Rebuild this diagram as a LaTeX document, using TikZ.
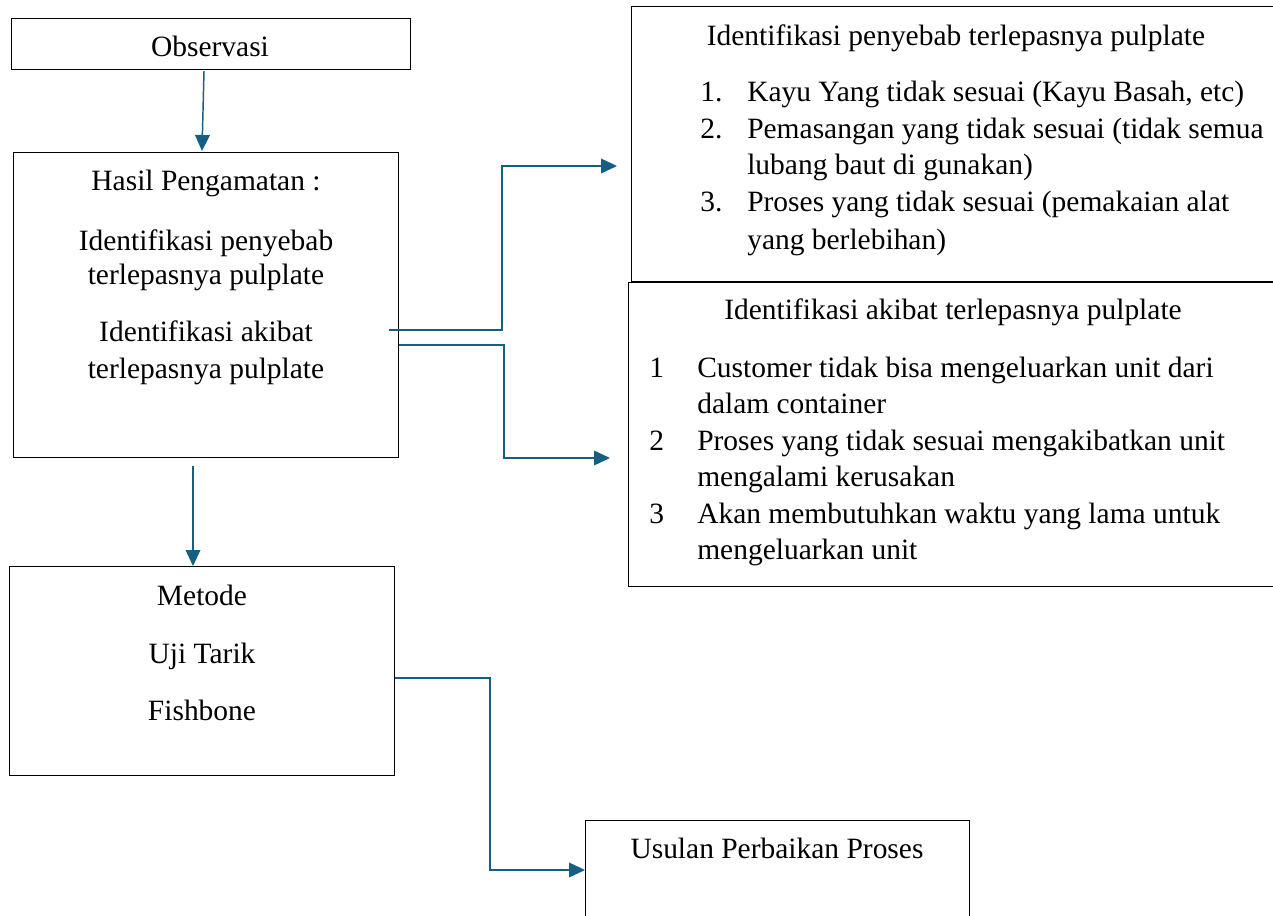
\documentclass[tikz,border=0pt]{standalone}
\usepackage{fontspec}
\setmainfont{Liberation Serif}
\usetikzlibrary{arrows.meta,calc}
\definecolor{arrowblue}{HTML}{156082}
\begin{document}
\begin{tikzpicture}[x=0.75pt,y=-0.75pt,
  box/.style={draw=black,line width=0.9pt,fill=white,rectangle,inner sep=0pt,anchor=north west},
  txt/.style={anchor=base,inner sep=0pt,font=\fontsize{22.1}{26}\selectfont},
  ltxt/.style={anchor=base west,inner sep=0pt,font=\fontsize{22.1}{26}\selectfont},
  arr/.style={draw=arrowblue,line width=1.1pt,-{Triangle[length=12pt,width=11pt]}},
  ln/.style={draw=arrowblue,line width=1.1pt}]
\useasboundingbox (0,0) rectangle (1273,916);
\clip (0,0) rectangle (1273,916);
% boxes
\node[box,minimum width=299.25pt,minimum height=38.25pt] (obs) at (11,18) {};
\node[box,minimum width=288.75pt,minimum height=228.75pt] (hasil) at (13,152) {};
\node[box,minimum width=288.75pt,minimum height=156.75pt] (metode) at (9,566) {};
\node[box,minimum width=494.25pt,minimum height=206.25pt] (r1) at (631,6) {};
\node[box,minimum width=496.5pt,minimum height=228pt] (r2) at (628,282) {};
\node[box,minimum width=288pt,minimum height=82.5pt] (usulan) at (585,820) {};
% texts
\node[txt] (t-obs) at (210,57) {Observasi};
\node[txt] (t-h1) at (206,191) {Hasil Pengamatan :};
\node[txt] (t-h2) at (206,250) {Identifikasi penyebab};
\node[txt] (t-h3) at (206,284) {terlepasnya pulplate};
\node[txt] (t-h4) at (206,341) {Identifikasi akibat};
\node[txt] (t-h5) at (206,378) {terlepasnya pulplate};
\node[txt] (t-m1) at (202,605) {Metode};
\node[txt] (t-m2) at (202,663) {Uji Tarik};
\node[txt] (t-m3) at (202,720) {Fishbone};
\node[txt] (t-r1) at (956,46) {Identifikasi penyebab terlepasnya pulplate};
\node[ltxt] (n11) at (700,102) {1.};
\node[ltxt] (l11) at (747,102) {Kayu Yang tidak sesuai (Kayu Basah, etc)};
\node[ltxt] (n12) at (700,139) {2.};
\node[ltxt] (l12) at (747,139) {Pemasangan yang tidak sesuai (tidak semua};
\node[ltxt] (l12b) at (747,175) {lubang baut di gunakan)};
\node[ltxt] (n13) at (700,212) {3.};
\node[ltxt] (l13) at (747,212) {Proses yang tidak sesuai (pemakaian alat};
\node[ltxt] (l13b) at (747,249) {yang berlebihan)};
\node[txt] (t-r2) at (953,319) {Identifikasi akibat terlepasnya pulplate};
\node[ltxt] (n21) at (649,377) {1};
\node[ltxt] (l21) at (697,377) {Customer tidak bisa mengeluarkan unit dari};
\node[ltxt] (l21b) at (697,413) {dalam container};
\node[ltxt] (n22) at (649,450) {2};
\node[ltxt] (l22) at (697,450) {Proses yang tidak sesuai mengakibatkan unit};
\node[ltxt] (l22b) at (697,486) {mengalami kerusakan};
\node[ltxt] (n23) at (649,523) {3};
\node[ltxt] (l23) at (697,523) {Akan membutuhkan waktu yang lama untuk};
\node[ltxt] (l23b) at (697,559) {mengeluarkan unit};
\node[txt] (t-u) at (777,858) {Usulan Perbaikan Proses};
% connectors
\coordinate (a1s) at ($(obs.south west)+(193,1)$);
\coordinate (a1e) at ($(hasil.north west)+(189,-1)$);
\draw[arr] (a1s) -- (a1e);
\coordinate (a2s) at ($(hasil.north east)+(-10,178)$);
\coordinate (a2e) at ($(r1.north west)+(-14,160)$);
\draw[arr] (a2s) -- (a2s -| 502,0) |- (a2e);
\coordinate (a3s) at ($(hasil.north east)+(0,193)$);
\coordinate (a3e) at ($(r2.north west)+(-18,176)$);
\draw[arr] (a3s) -- (a3s -| 504,0) |- (a3e);
\coordinate (a4s) at ($(hasil.south west)+(180,8)$);
\draw[arr] (a4s) -- (a4s |- metode.north);
\coordinate (a5s) at ($(metode.north east)+(0,112)$);
\coordinate (a5e) at ($(usulan.north west)+(0,50)$);
\draw[arr] (a5s) -- (a5s -| 490,0) |- (a5e);
\end{tikzpicture}
\end{document}
